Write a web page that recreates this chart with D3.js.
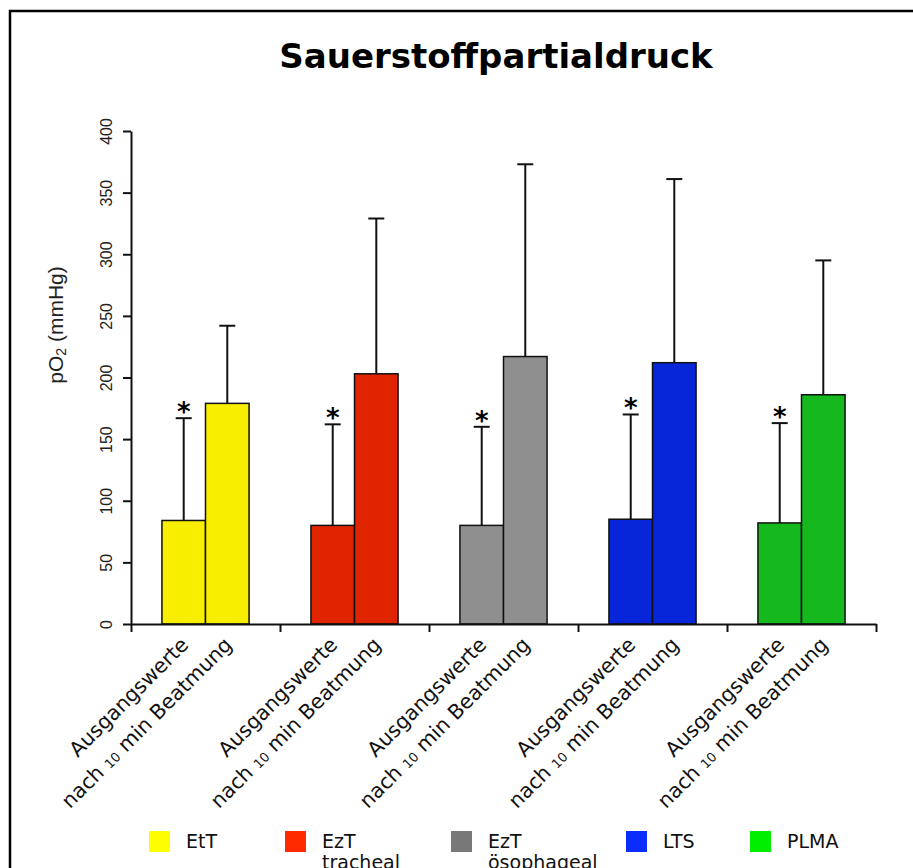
<!DOCTYPE html>
<html>
<head>
<meta charset="utf-8">
<script src="https://cdn.jsdelivr.net/npm/d3@7"></script>
<style>
body{margin:0;background:#fff;}
</style>
</head>
<body>
<script>
// data
var groups = ["EtT", "EzT tracheal", "EzT ösophageal", "LTS", "PLMA"];
var legendLines = [["EtT"], ["EzT", "tracheal"], ["EzT", "ösophageal"], ["LTS"], ["PLMA"]];
var conditions = ["Ausgangswerte", "nach 10 min Beatmung"];
var baseMean = [84, 80, 80, 85, 82];
var baseUpper = [167, 162, 160, 170, 163];
var postMean = [179, 203, 217, 212, 186];
var postUpper = [242, 329, 373, 361, 295];
var significant = [true, true, true, true, true];
var yTicks = [0, 50, 100, 150, 200, 250, 300, 350, 400];

var barColors = ["#f8ef00", "#e02400", "#8f8f8f", "#0726d9", "#15b91d"];
var legendColors = ["#ffff00", "#ff2a00", "#787878", "#0a2cff", "#00ee00"];

var width = 913, height = 868;

var svg = d3.select("body").append("svg")
	.attr("width", width)
	.attr("height", height);

// frame (only top and left edges are visible)
svg.append("path")
	.attr("d", "M10," + height + "V11H" + width)
	.attr("fill", "none")
	.attr("stroke", "#000")
	.attr("stroke-width", 2.5);

svg.append("text")
	.attr("x", 496)
	.attr("y", 68)
	.attr("text-anchor", "middle")
	.attr("font-family", "DejaVu Sans")
	.attr("font-weight", "bold")
	.attr("font-size", 34)
	.text("Sauerstoffpartialdruck");

var x0 = 131, x1 = 876, yBase = 624, yTop = 131;

var y = d3.scaleLinear().domain([0, 400]).range([yBase, yTop]);

var xGroup = d3.scaleBand().domain(groups).range([x0, x1]);
var xCond = d3.scaleBand().domain(conditions)
	.range([0, xGroup.bandwidth()])
	.paddingOuter(0.71);

// rows: one per bar
var rows = [];
groups.forEach(function(g, i){
	rows.push({g: g, i: i, c: conditions[0], mean: baseMean[i], upper: baseUpper[i], star: significant[i]});
	rows.push({g: g, i: i, c: conditions[1], mean: postMean[i], upper: postUpper[i], star: false});
});

function cx(d){ return xGroup(d.g) + xCond(d.c) + xCond.bandwidth() / 2; }

// error bars (upper only)
var err = svg.append("g").attr("stroke", "#111").attr("stroke-width", 2);
err.selectAll("line.v")
	.data(rows)
	.enter().append("line")
	.attr("class", "v")
	.attr("x1", cx).attr("x2", cx)
	.attr("y1", d => y(d.mean)).attr("y2", d => y(d.upper));
err.selectAll("line.cap")
	.data(rows)
	.enter().append("line")
	.attr("class", "cap")
	.attr("x1", d => cx(d) - 8).attr("x2", d => cx(d) + 8)
	.attr("y1", d => y(d.upper)).attr("y2", d => y(d.upper));

// bars
svg.append("g").selectAll("rect")
	.data(rows)
	.enter().append("rect")
	.attr("x", d => xGroup(d.g) + xCond(d.c))
	.attr("width", xCond.bandwidth())
	.attr("y", d => y(d.mean))
	.attr("height", d => yBase - y(d.mean))
	.attr("fill", d => barColors[d.i])
	.attr("stroke", "#111")
	.attr("stroke-width", 1.5);

// asterisks
svg.append("g").selectAll("text")
	.data(rows.filter(d => d.star))
	.enter().append("text")
	.attr("x", cx)
	.attr("y", d => y(d.upper) + 3)
	.attr("text-anchor", "middle")
	.attr("font-family", "DejaVu Sans")
	.attr("font-weight", "bold")
	.attr("font-size", 26)
	.text("*");

// y axis
var yAxis = d3.axisLeft(y).tickValues(yTicks).tickSize(8).tickSizeOuter(0);
var yg = svg.append("g")
	.attr("transform", "translate(" + x0 + ",0)")
	.call(yAxis);
yg.select(".domain").attr("stroke", "#111").attr("stroke-width", 2);
yg.selectAll(".tick line").attr("stroke", "#111").attr("stroke-width", 2);
yg.selectAll(".tick text")
	.attr("transform", "rotate(-90)")
	.attr("x", 0)
	.attr("y", -19)
	.attr("dy", 0)
	.attr("text-anchor", "middle")
	.attr("font-family", "Liberation Sans")
	.attr("font-size", 16)
	.attr("fill", "#222");

// y title
var yt = svg.append("text")
	.attr("transform", "translate(63,325) rotate(-90)")
	.attr("text-anchor", "middle")
	.attr("font-family", "Liberation Sans")
	.attr("font-size", 21)
	.attr("fill", "#222");
yt.append("tspan").text("pO");
yt.append("tspan").attr("font-size", 14).attr("dy", 3).text("2");
yt.append("tspan").attr("dy", -3).text(" (mmHg)");

// x axis with group boundary ticks
var xScaleLin = d3.scaleLinear().domain([0, groups.length]).range([x0, x1]);
var xAxis = d3.axisBottom(xScaleLin).ticks(groups.length).tickSize(8).tickSizeOuter(0).tickFormat("");
var xg = svg.append("g")
	.attr("transform", "translate(0," + yBase + ")")
	.call(xAxis);
xg.select(".domain").attr("stroke", "#111").attr("stroke-width", 2);
xg.selectAll(".tick line").attr("stroke", "#111").attr("stroke-width", 2);

// rotated bar labels
var lab = svg.append("g").selectAll("text")
	.data(rows)
	.enter().append("text")
	.attr("transform", d => "translate(" + (cx(d) + 6) + "," + (yBase + 22) + ") rotate(-45)")
	.attr("text-anchor", "end")
	.attr("font-family", "DejaVu Sans")
	.attr("font-size", 20.5)
	.attr("fill", "#111");
lab.each(function(d){
	var t = d3.select(this);
	if (d.c === conditions[0]) {
		t.text(d.c);
	} else {
		t.append("tspan").text("nach ");
		t.append("tspan").attr("font-size", 13).text("10");
		t.append("tspan").text(" min Beatmung");
	}
});

// legend
var legendX = [149, 285, 451, 626, 750];
var leg = svg.append("g").selectAll("g")
	.data(groups)
	.enter().append("g")
	.attr("transform", (d, i) => "translate(" + legendX[i] + ",831)");
leg.append("rect")
	.attr("width", 21).attr("height", 21)
	.attr("fill", (d, i) => legendColors[i]);
leg.append("text")
	.attr("x", 37)
	.attr("y", 17)
	.attr("font-family", "DejaVu Sans")
	.attr("font-size", 19)
	.attr("fill", "#111")
	.selectAll("tspan")
	.data((d, i) => legendLines[i])
	.enter().append("tspan")
	.attr("x", 37)
	.attr("dy", (d, j) => j === 0 ? 0 : 21)
	.text(d => d);
</script>
</body>
</html>
